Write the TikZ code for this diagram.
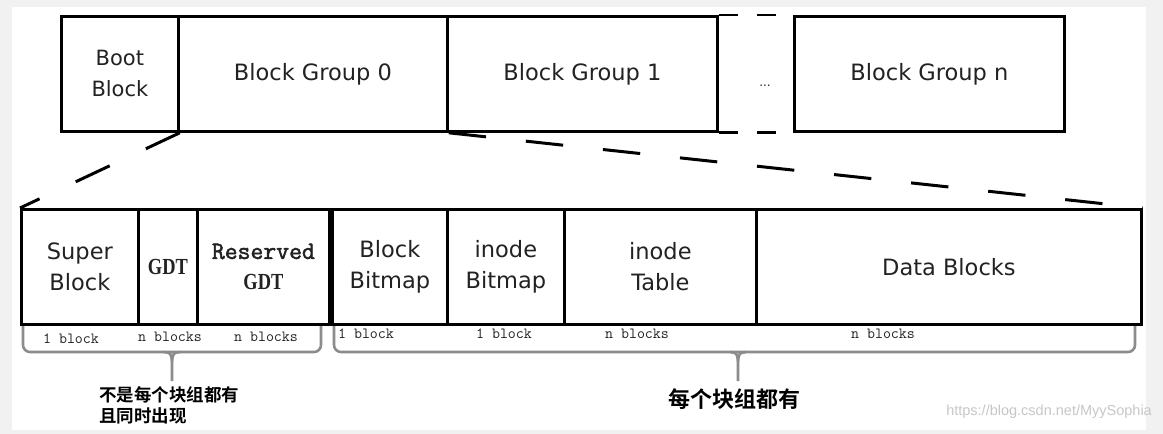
\documentclass[tikz,border=0pt]{standalone}
\usepackage{fontspec}
\setmainfont{DejaVu Sans}
\newfontfamily\lblmono{Latin Modern Mono}
\newfontfamily\resmono{Latin Modern Mono}[FakeBold=2]
\newfontfamily\gdtserif{Liberation Serif Bold}[FakeStretch=0.8]
\newfontfamily\cjk{Noto Sans CJK SC}[BoldFont={Noto Sans CJK SC Bold}]
\newfontfamily\wmf{Liberation Sans}
\definecolor{bggray}{HTML}{F1F1F1}
\definecolor{bracegray}{HTML}{8C8C8C}
\definecolor{txt}{HTML}{222222}
\begin{document}
\begin{tikzpicture}[x=1pt,y=-1pt,
  blk/.style={draw=black,line width=2.8pt,inner sep=0pt,anchor=north west,
    minimum height=115pt,align=center,text=txt,
    font=\fontsize{22.5}{31}\selectfont},
  sizelbl/.style={font=\lblmono\fontsize{15.5}{15.5}\selectfont,inner sep=0pt,text=txt},
  connector/.style={line width=3pt,dash pattern=on 37.5pt off 40pt},
  bracepath/.style={draw=bracegray,line width=2.6pt,rounded corners=7pt},
  bracetip/.style={draw=bracegray,line width=2.6pt},
  gaplines/.style={line width=2.8pt,dash pattern=on 19pt off 19pt}]
\useasboundingbox (0,0) rectangle (1163,434);
\fill[bggray] (0,0) rectangle (1163,434);
\fill[white] (12,7) rectangle (1146,430);

% top row
\node[blk,minimum width=117pt,font=\fontsize{21}{31}\selectfont] (boot) at (60,15) {Boot\\Block};
\node[blk,minimum width=269pt] (bg0) at (177,15) {Block Group 0};
\node[blk,minimum width=270pt] (bg1) at (446,15) {Block Group 1};
\node[blk,minimum width=270pt] (bgn) at (793,15) {Block Group n};
\draw[gaplines] (bg1.north east) -- (bgn.north west);
\draw[gaplines] (bg1.south east) -- (bgn.south west);
\node[font=\fontsize{12}{12}\selectfont,text=txt] (dots) at (765,86) {...};

% bottom row
\node[blk,minimum width=117pt] (sb) at (20,208) {Super\\Block};
\node[blk,minimum width=59pt,font=\gdtserif\fontsize{23}{31}\selectfont] (gdt) at (137,208) {GDT};
\node[blk,minimum width=132pt] (rgdt) at (196,208) {{\resmono\fontsize{25}{31}\selectfont Reserved}\\{\gdtserif\fontsize{23}{31}\selectfont GDT}};
\node[blk,minimum width=115pt] (bbm) at (331,208) {Block\\Bitmap};
\node[blk,minimum width=117pt] (ibm) at (446,208) {inode\\Bitmap};
\node[blk,minimum width=192pt] (itab) at (563,208) {inode\\Table};
\node[blk,minimum width=385pt] (data) at (755,208) {Data Blocks};

% dashed connectors
\draw[connector] (boot.south east) -- (sb.north west);
\draw[connector] (bg0.south east) -- (data.north east);

% size labels
\node[sizelbl] (l1) at (71,339) {1 block};
\node[sizelbl] (l2) at (170,337) {n blocks};
\node[sizelbl] (l3) at (266,337) {n blocks};
\node[sizelbl] (l4) at (366,334) {1 block};
\node[sizelbl] (l5) at (504,334) {1 block};
\node[sizelbl] (l6) at (637,334) {n blocks};
\node[sizelbl] (l7) at (883,334) {n blocks};

% braces
\draw[bracepath] (23,326) -- (23,352) -- (172,352);
\draw[bracepath] (321,326) -- (321,352) -- (172,352);
\draw[bracetip] (164,352) .. controls (171,353) .. (172,362) -- (172,381);
\draw[bracetip] (180,352) .. controls (173,353) .. (172,362);
\draw[bracepath] (334,326) -- (334,352) -- (738,352);
\draw[bracepath] (1135,326) -- (1135,352) -- (738,352);
\draw[bracetip] (730,352) .. controls (737,353) .. (738,362) -- (738,381);
\draw[bracetip] (746,352) .. controls (739,353) .. (738,362);

% chinese notes
\node[anchor=west,align=left,inner sep=0pt,font=\cjk\bfseries\fontsize{17.5}{21}\selectfont] (noteA) at (99,405) {不是每个块组都有\\且同时出现};
\node[inner sep=0pt,font=\cjk\bfseries\fontsize{22}{22}\selectfont] (noteB) at (734,399) {每个块组都有};

% watermark
\node[anchor=east,inner sep=0pt,text=black!22,font=\wmf\fontsize{14.5}{14.5}\selectfont] (wm) at (1152,412) {https://blog.csdn.net/MyySophia};
\end{tikzpicture}
\end{document}
